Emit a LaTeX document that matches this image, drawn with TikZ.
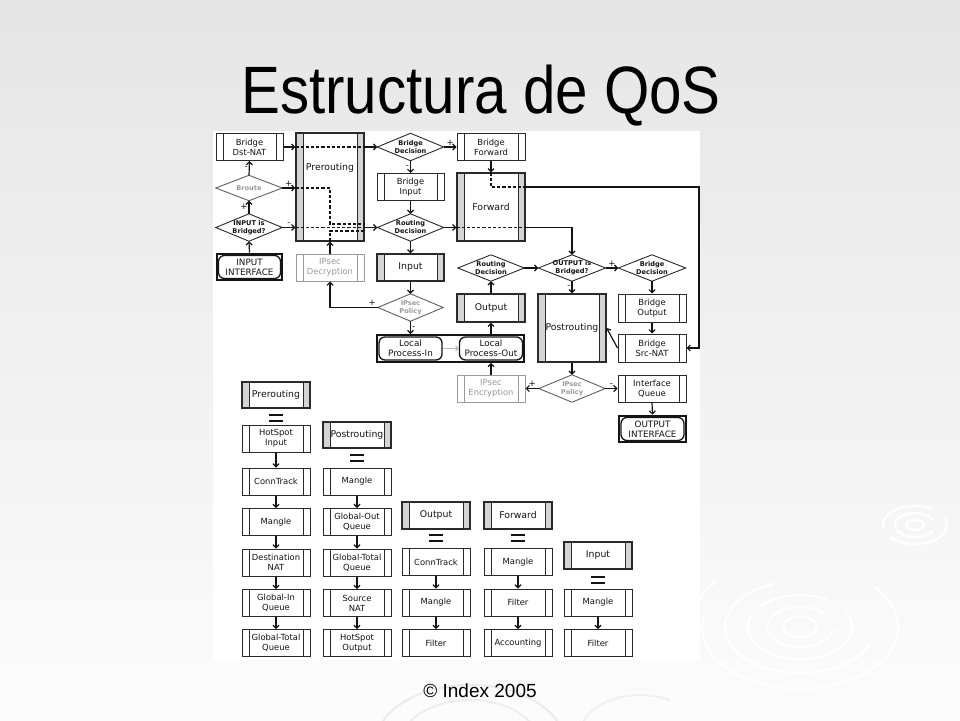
\documentclass[tikz,border=0pt]{standalone}
\usepackage{fontspec}
\usepackage{graphicx}
\usetikzlibrary{arrows.meta,fit,calc}
\newfontfamily\djv{DejaVu Sans}
\newfontfamily\lib{Liberation Sans}
\definecolor{boxline}{HTML}{2A2A2A}
\definecolor{barfill}{HTML}{D4D4D4}
\definecolor{fadegray}{HTML}{9A9A9A}
\definecolor{ink}{HTML}{141414}
\definecolor{ripple}{HTML}{FFFFFF}
\tikzset{
 tblbox/.style={draw=#1, line width=1pt, fill=white, minimum width=67pt, minimum height=27pt,
   inner sep=0pt, align=center, font=\djv\fontsize{8.4}{9.8}\selectfont, text=ink,
   path picture={\draw[#1, line width=0.9pt]
     ([xshift=7pt]path picture bounding box.north west) -- ([xshift=7pt]path picture bounding box.south west)
     ([xshift=-7pt]path picture bounding box.north east) -- ([xshift=-7pt]path picture bounding box.south east);}},
 tblbox/.default=boxline,
 chainbox/.style={draw=boxline, line width=1.2pt, fill=white, minimum width=68pt, minimum height=27pt,
   inner sep=0pt, align=center, font=\djv\fontsize{9.3}{10.8}\selectfont, text=ink,
   path picture={\fill[barfill] (path picture bounding box.north west) rectangle ([xshift=7pt]path picture bounding box.south west);
     \fill[barfill] ([xshift=-7pt]path picture bounding box.north east) rectangle (path picture bounding box.south east);
     \draw[boxline, line width=0.9pt]
     ([xshift=7pt]path picture bounding box.north west) -- ([xshift=7pt]path picture bounding box.south west)
     ([xshift=-7pt]path picture bounding box.north east) -- ([xshift=-7pt]path picture bounding box.south east);}},
 decision/.style={rectangle, minimum width=66pt, minimum height=27pt, inner sep=0pt, align=center,
   font=\djv\bfseries\fontsize{6.6}{8}\selectfont, text=ink},
 ifc/.style={draw=ink, line width=1.3pt, rounded corners=6pt, fill=white, minimum width=62pt, minimum height=23pt,
   inner sep=0pt, align=center, font=\djv\fontsize{8.8}{10.2}\selectfont, text=ink},
 frame/.style={draw=ink, line width=2pt, inner sep=1.2pt, rectangle},
 arr/.style={draw=ink, line width=1.2pt, -{Straight Barb[length=3pt,width=6pt]}},
 dsh/.style={draw=ink, line width=1.2pt, dash pattern=on 3.2pt off 2pt},
 pm/.style={font=\djv\fontsize{8.5}{8.5}\selectfont, text=ink, inner sep=1pt},
 eqs/.style={draw=ink, line width=1.3pt},
 rip/.style={draw=ripple, line width=2.4pt, line cap=round},
}
\begin{document}
\begin{tikzpicture}[x=1pt,y=-1pt]
\useasboundingbox (0,0) rectangle (960,720);
% background
\shade[top color=gray!20, bottom color=gray!2] (0,0) rectangle (960,720);
% ripples
\begin{scope}
\draw[rip] (915,525) ellipse [x radius=9, y radius=5];
\draw[rip] (915,525) ++(30:20 and 12) arc[start angle=30, end angle=330, x radius=20, y radius=12];
\draw[rip] (915,525) ++(-20:32 and 19) arc[start angle=-20, end angle=140, x radius=32, y radius=19];
\draw[rip] (915,525) ++(170:32 and 19) arc[start angle=170, end angle=300, x radius=32, y radius=19];
\draw[rip] (800,627) ellipse [x radius=17, y radius=10];
\draw[rip] (800,627) ++(10:33 and 20) arc[start angle=10, end angle=320, x radius=33, y radius=20];
\draw[rip] (800,627) ++(-30:52 and 32) arc[start angle=-30, end angle=200, x radius=52, y radius=32];
\draw[rip] (800,627) ++(220:52 and 32) arc[start angle=220, end angle=300, x radius=52, y radius=32];
\draw[rip] (800,627) ++(20:75 and 46) arc[start angle=20, end angle=250, x radius=75, y radius=46];
\draw[rip] (800,627) ++(-40:98 and 62) arc[start angle=-40, end angle=190, x radius=98, y radius=62];
\draw[rip] (800,627) ++(160:110 and 70) arc[start angle=160, end angle=220, x radius=110, y radius=70];
\draw[draw=gray!16, line width=2pt] (470,745) ++(200:95 and 60) arc[start angle=200, end angle=340, x radius=95, y radius=60];
\draw[draw=gray!13, line width=2pt] (470,745) ++(210:70 and 45) arc[start angle=210, end angle=330, x radius=70, y radius=45];
\draw[draw=gray!12, line width=2pt] (640,735) ++(200:60 and 40) arc[start angle=200, end angle=300, x radius=60, y radius=40];
\end{scope}
% title and footer
\node[font=\lib\fontsize{67}{70}\selectfont, anchor=base, inner sep=0pt, text=black] (title) at (481,113) {\scalebox{0.87}[1]{Estructura de QoS}};
\node[font=\lib\fontsize{19}{22}\selectfont, anchor=base, inner sep=0pt, text=black] (foot) at (480,697) {© Index 2005};
% white panel
\fill[white] (213,131) rectangle (700,660);

% ---------------- top diagram ----------------
\node[tblbox] (bdn) at (249.5,147) {Bridge\\Dst-NAT};
\node[chainbox, minimum height=108pt] (pre) at (330,187) {};
\node[font=\djv\fontsize{9.3}{10.8}\selectfont, text=ink, inner sep=0pt] (prelbl) at (330,168) {Prerouting};
\node[decision] (bd1) at (410.5,147) {Bridge\\Decision};
\node[tblbox, minimum width=68pt] (bfw) at (491,147) {Bridge\\Forward};
\node[decision, minimum height=25pt, text=fadegray] (brt) at (249,188) {Broute};
\node[tblbox] (bin) at (410.5,187) {Bridge\\Input};
\node[chainbox, minimum height=68pt] (fwd) at (491,207) {Forward};
\node[decision] (iib) at (249,227.5) {INPUT is\\Bridged?};
\node[decision] (rd1) at (410.5,227.5) {Routing\\Decision};
\node[ifc] (iifin) at (249.5,267) {INPUT\\INTERFACE};
\node[frame, fit=(iifin)] (iif) {};
\node[tblbox=fadegray, minimum width=68pt, text=fadegray] (dec) at (330,267.5) {IPsec\\Decryption};
\node[chainbox, minimum width=67pt] (inp) at (410.5,267.5) {Input};
\node[decision, minimum height=26pt] (rd2) at (491,268) {Routing\\Decision};
\node[decision, minimum height=26pt, minimum width=67pt] (oib) at (572,268) {OUTPUT is\\Bridged?};
\node[decision, minimum height=26pt, minimum width=67pt] (bd2) at (652,268) {Bridge\\Decision};
\node[decision, minimum width=65pt, text=fadegray] (ip1) at (410.5,307.5) {IPsec\\Policy};
\node[chainbox, minimum height=28pt] (out) at (491,308) {Output};
\node[chainbox, minimum height=68pt] (pst) at (572,328) {Postrouting};
\node[tblbox, minimum width=68pt, minimum height=28pt] (bou) at (652,308) {Bridge\\Output};
\node[ifc, minimum width=63pt] (lpi) at (410.5,348.5) {Local\\Process-In};
\node[ifc, minimum width=63pt] (lpo) at (491,348.5) {Local\\Process-Out};
\node[frame, fit=(lpi)(lpo)] (loc) {};
\node[tblbox, minimum width=68pt, minimum height=28pt] (bsn) at (652,348) {Bridge\\Src-NAT};
\node[tblbox=fadegray, minimum width=68pt, text=fadegray] (enc) at (491,388.5) {IPsec\\Encryption};
\node[decision, text=fadegray] (ip2) at (572,388.5) {IPsec\\Policy};
\node[tblbox, minimum width=68pt] (ifq) at (652,388.5) {Interface\\Queue};
\node[ifc, minimum width=63pt] (oifin) at (652.5,429) {OUTPUT\\INTERFACE};
\node[frame, fit=(oifin)] (oif) {};

% diamonds
\foreach \d in {bd1,rd1,iib,rd2,oib,bd2}
  \draw[boxline, line width=0.9pt] (\d.north) -- (\d.east) -- (\d.south) -- (\d.west) -- cycle;
\foreach \d in {brt,ip1,ip2}
  \draw[gray!75!black, line width=0.9pt] (\d.north) -- (\d.east) -- (\d.south) -- (\d.west) -- cycle;

% connectors
\draw[arr] (bdn.east) -- (pre.west|-bdn.east);
\draw[dsh] (pre.west|-bdn.east) -- (pre.east|-bdn.east);
\draw[arr] (pre.east|-bdn.east) -- (bd1.west);
\draw[arr] (bd1.east) -- node[pm, above] (l1) {+} (bfw.west);
\draw[arr] (bd1.south) -- node[pm, left] (l2) {-} (bin.north);
\draw[arr] (bin.south) -- (rd1.north);
\draw[arr] (rd1.east) -- (fwd.west|-rd1.east);
\draw[dsh] (fwd.west|-rd1.east) -- (fwd.east|-rd1.east);
\draw[arr] (fwd.east|-rd1.east) -| (oib.north);
\draw[arr] (bfw.south) -- (fwd.north);
\coordinate (fj) at (491,187);
\coordinate (rc) at (699,187);
\draw[dsh] (fwd.north) -- (fj) -- (fj-|fwd.east);
\draw[arr] (fj-|fwd.east) -- (rc) |- (bsn.east);
\draw[arr] (rd1.south) -- (inp.north);
\draw[arr] (iif.north) -- (iib.south);
\draw[arr] (iib.north) -- node[pm, left] (l3) {+} (brt.south);
\draw[arr] (brt.north) -- node[pm, left] (l4) {-} (bdn.south);
\draw[arr] (brt.east) -- node[pm, above] (l5) {+} (pre.west|-brt.east);
\coordinate (pa) at (330,188);
\coordinate (pb) at (330,224);
\coordinate (pc) at (330,231);
\draw[dsh] (pre.west|-brt.east) -- (pa) -- (pb) -- (pb-|pre.east);
\draw[arr] (iib.east) -- node[pm, above] (l6) {-} (pre.west|-iib.east);
\draw[dsh] (pre.west|-iib.east) -- (pre.east|-iib.east);
\draw[arr] (dec.north) -- (pre.south);
\draw[dsh] (pre.south) -- (pc) -- (pc-|pre.east);
\draw[arr] (pre.east|-rd1.west) -- (rd1.west);
\draw[arr] (inp.south) -- (ip1.north);
\draw[arr] (ip1.west) -| node[pm, above, pos=0.06] (l7) {+} (dec.south);
\draw[arr] (ip1.south) -- node[pm, right] (l8) {-} (ip1.south|-loc.north);
\draw[draw=gray!55, line width=1pt, -{Straight Barb[length=2.5pt,width=5pt]}] (lpi.east) -- (lpo.west);
\draw[arr] (lpo.north|-loc.north) -- (out.south);
\draw[arr] (out.north) -- (rd2.south);
\draw[arr] (rd2.east) -- (oib.west);
\draw[arr] (oib.east) -- node[pm, above] (l9) {+} (bd2.west);
\draw[arr] (oib.south) -- node[pm, left] (l10) {-} (pst.north);
\draw[arr] (bd2.south) -- (bou.north);
\draw[arr] (bou.south) -- (bsn.north);
\draw[arr] (bsn.west) -- (pst.east);
\draw[arr] (pst.south) -- (ip2.north);
\draw[arr] (ip2.west) -- node[pm, above] (l11) {+} (enc.east);
\draw[arr] (ip2.east) -- node[pm, above] (l12) {-} (ifq.west);
\draw[arr] (enc.north) -- (enc.north|-loc.south);
\draw[arr] (ifq.south) -- (oif.north);

% ---------------- bottom tables ----------------
\node[chainbox, minimum height=26pt] (h1) at (276,395) {Prerouting};
\node[tblbox, minimum width=68pt] (a1) at (276,438.5) {HotSpot\\Input};
\node[tblbox, minimum width=68pt] (a2) at (276,481.5) {ConnTrack};
\node[tblbox, minimum width=68pt] (a3) at (276,522) {Mangle};
\node[tblbox, minimum width=68pt] (a4) at (276,562.5) {Destination\\NAT};
\node[tblbox, minimum width=68pt] (a5) at (276,603) {Global-In\\Queue};
\node[tblbox, minimum width=68pt] (a6) at (276,643) {Global-Total\\Queue};

\node[chainbox, minimum height=26pt] (h2) at (357,435) {Postrouting};
\node[tblbox, minimum width=68pt] (b1) at (357,481.5) {Mangle};
\node[tblbox, minimum width=68pt] (b2) at (357,522) {Global-Out\\Queue};
\node[tblbox, minimum width=68pt] (b3) at (357,562.5) {Global-Total\\Queue};
\node[tblbox, minimum width=68pt] (b4) at (357,603) {Source\\NAT};
\node[tblbox, minimum width=68pt] (b5) at (357,643) {HotSpot\\Output};

\node[chainbox, minimum height=27pt] (h3) at (436,515.5) {Output};
\node[tblbox, minimum width=68pt] (c1) at (436,562) {ConnTrack};
\node[tblbox, minimum width=68pt] (c2) at (436,602.5) {Mangle};
\node[tblbox, minimum width=68pt] (c3) at (436,643) {Filter};

\node[chainbox, minimum height=27pt] (h4) at (518,515.5) {Forward};
\node[tblbox, minimum width=68pt] (d1) at (518,562) {Mangle};
\node[tblbox, minimum width=68pt] (d2) at (518,602.5) {Filter};
\node[tblbox, minimum width=68pt] (d3) at (518,643) {Accounting};

\node[chainbox, minimum height=27pt] (h5) at (598,555.5) {Input};
\node[tblbox, minimum width=68pt] (e1) at (598,602.5) {Mangle};
\node[tblbox, minimum width=68pt] (e2) at (598,643) {Filter};

\foreach \a/\b in {a1/a2,a2/a3,a3/a4,a4/a5,a5/a6,b1/b2,b2/b3,b3/b4,b4/b5,c1/c2,c2/c3,d1/d2,d2/d3,e1/e2}
  \draw[arr] (\a.south) -- (\b.north);

% equal signs
\draw[eqs] (269,415) -- (283,415) (269,421) -- (283,421);
\draw[eqs] (350,455) -- (364,455) (350,461) -- (364,461);
\draw[eqs] (429,535) -- (443,535) (429,541) -- (443,541);
\draw[eqs] (511,535) -- (525,535) (511,541) -- (525,541);
\draw[eqs] (591,577) -- (605,577) (591,583) -- (605,583);
\end{tikzpicture}
\end{document}
